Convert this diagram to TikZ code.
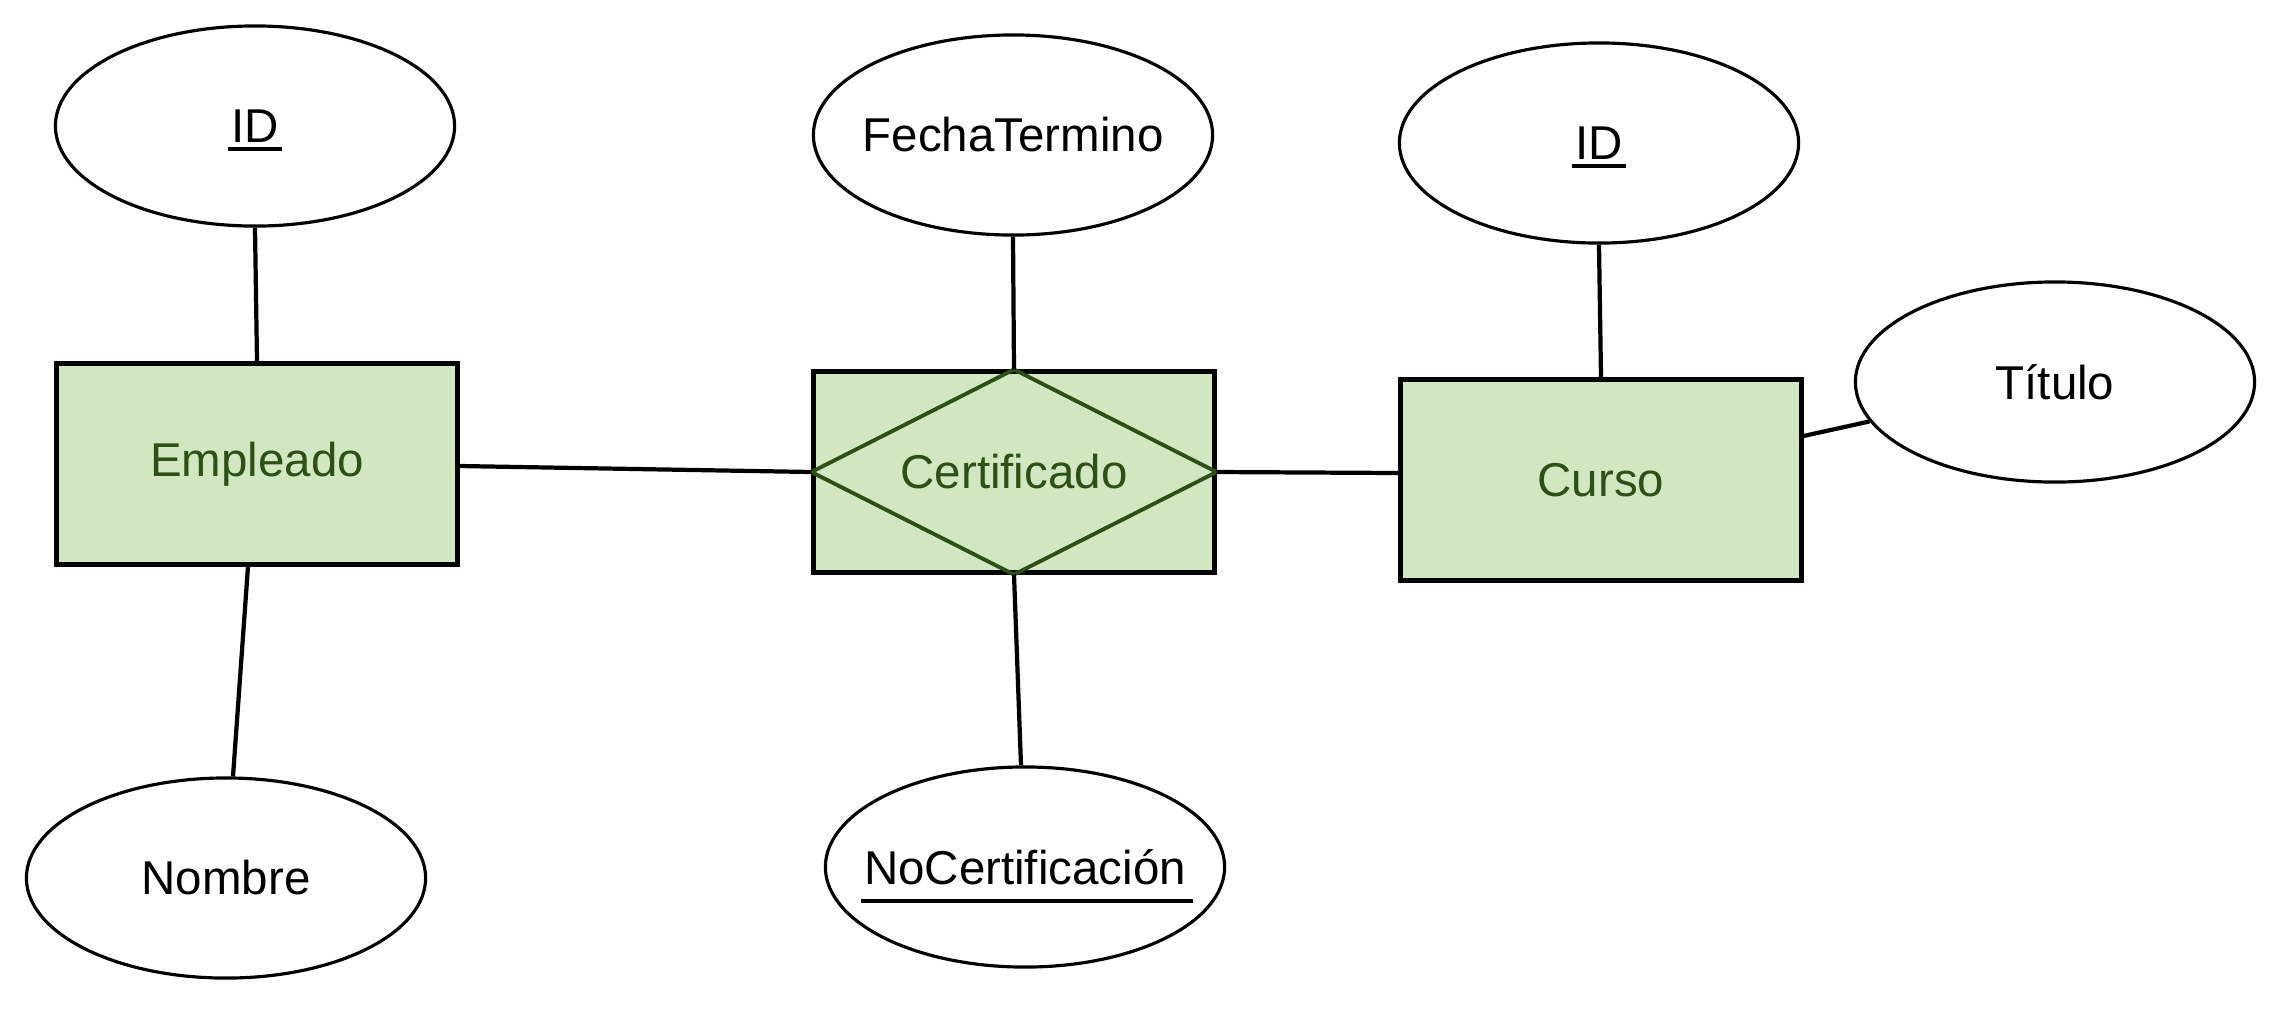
\documentclass[tikz,border=0pt]{standalone}
\usepackage{fontspec}
\setmainfont{Liberation Sans}
\usetikzlibrary{shapes.geometric,calc}
\definecolor{entfill}{HTML}{D1E7C2}
\definecolor{entfont}{HTML}{2D5016}
\newcommand\keyul[3]{\setbox0\hbox{#1}\rlap{\hspace{-1pt}\smash{\rule[-\dimexpr#2+1.1pt\relax]{\dimexpr\wd0+#3\relax}{1.1pt}}}\box0}
\tikzset{
  attr/.style={ellipse, draw=black, line width=0.9pt, fill=white, minimum width=3.99cm, minimum height=2cm, inner sep=0pt, font=\fontsize{13.5}{16}\selectfont},
  entity/.style={rectangle, draw=black, line width=1.4pt, fill=entfill, minimum width=4cm, minimum height=2cm, inner sep=0pt, text=entfont, font=\fontsize{13.5}{16}\selectfont},
  conn/.style={line width=1.2pt, draw=black},
  diamondline/.style={line width=1.1pt, draw=entfont, line join=miter}
}
\begin{document}
\begin{tikzpicture}[x=0.01cm,y=-0.01cm]
\useasboundingbox (0,0) rectangle (2284,1008);
% entities
\node[entity] (emp) at (257,464) {Empleado};
\node[entity] (cert) at (1014,472) {};
\draw[diamondline] (cert.north) -- (cert.east) -- (cert.south) -- (cert.west) -- cycle;
\node[text=entfont, font=\fontsize{13.5}{16}\selectfont] (certlbl) at (cert.center) {Certificado};
\node[entity] (cur) at (1601,480) {Curso};
% attributes
\node[attr] (id1) at (255,126) {\makebox[0pt]{\keyul{ID}{1.4pt}{2pt}}};
\node[attr] (fecha) at (1013,135) {\makebox[0pt]{FechaTermino}};
\node[attr] (id2) at (1599,143) {\makebox[0pt]{\keyul{ID}{1.4pt}{2pt}}};
\node[attr] (tit) at (2055,382) {\makebox[0pt]{Título}};
\node[attr] (nom) at (226,878) {\makebox[0pt]{Nombre}};
\node[attr] (nocert) at (1025,867) {\makebox[0pt]{\keyul{NoCertificación}{4.2pt}{3pt}}};
% connectors
\draw[conn] (id1.south) -- (emp.north);
\draw[conn] ([xshift=-0.09cm]emp.south) -- ([xshift=0.07cm]nom.north);
\draw[conn] ([yshift=-0.02cm]emp.east) -- (cert.west);
\draw[conn] (cert.east) -- ([yshift=0.07cm]cur.west);
\draw[conn] (fecha.south) -- (cert.north);
\draw[conn] (cert.south) -- ([xshift=-0.04cm]nocert.north);
\draw[conn] (id2.south) -- (cur.north);
\draw[conn] ([yshift=0.44cm]cur.east) -- (tit.192);
\end{tikzpicture}
\end{document}
